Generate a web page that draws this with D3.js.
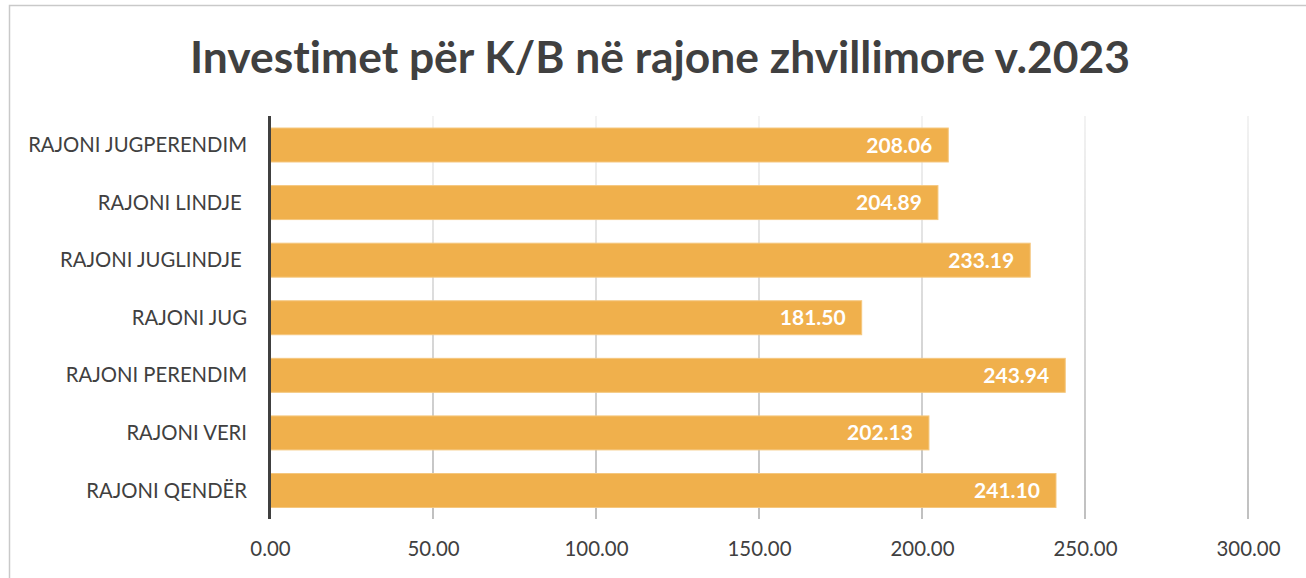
<!DOCTYPE html>
<html><head><meta charset="utf-8">
<script src="https://cdn.jsdelivr.net/npm/d3@7"></script>
<style>body{margin:0;background:#fff;} svg{display:block;} text{font-variant-ligatures:none;font-feature-settings:"liga" 0;}</style>
</head><body>
<svg id="c" width="1306" height="578"></svg>
<script>
const title = "Investimet për K/B në rajone zhvillimore v.2023";
const categories = ["RAJONI JUGPERENDIM","RAJONI LINDJE ","RAJONI JUGLINDJE ","RAJONI JUG","RAJONI PERENDIM","RAJONI VERI","RAJONI QENDËR"];
const values = [208.06,204.89,233.19,181.50,243.94,202.13,241.10];
const tickValues = [0,50,100,150,200,250,300];

const svg = d3.select("#c");
const font = "Lato, 'Open Sans', sans-serif";
const textCol = "#404040";

// chart border
svg.append("rect").attr("x",9.5).attr("y",5.5).attr("width",1320).attr("height",600)
  .attr("fill","none").attr("stroke","#c9c9c9").attr("stroke-width",1.5);

const x = d3.scaleLinear().domain([0,300]).range([270,1248]);
const y = d3.scaleBand().domain(categories).range([116.5,519]).paddingInner(0.41).paddingOuter(0.2);

const defs = svg.append("defs");
const g = defs.append("linearGradient").attr("id","gg").attr("gradientUnits","userSpaceOnUse")
  .attr("x1",0).attr("y1",116).attr("x2",0).attr("y2",519);
g.append("stop").attr("offset","0").attr("stop-color","#ececec");
g.append("stop").attr("offset","1").attr("stop-color","#9e9e9e");

// gridlines
svg.append("g").selectAll("line").data(tickValues.slice(1)).join("line")
  .attr("x1",d=>x(d)).attr("x2",d=>x(d)).attr("y1",116).attr("y2",519)
  .attr("stroke","url(#gg)").attr("stroke-width",1.3);

// bars
svg.append("g").selectAll("rect").data(values).join("rect")
  .attr("x",x(0)).attr("y",(d,i)=>y(categories[i]))
  .attr("width",d=>x(d)-x(0)).attr("height",y.bandwidth())
  .attr("fill","#f0b04c").attr("stroke","#f5c77e").attr("stroke-width",1);

// axis line
svg.append("line").attr("x1",269.5).attr("x2",269.5).attr("y1",116).attr("y2",519)
  .attr("stroke","#404040").attr("stroke-width",3);

// x axis
const xa = svg.append("g").attr("transform","translate(0,519)")
  .call(d3.axisBottom(x).tickValues(tickValues).tickFormat(d3.format(".2f")).tickSize(0).tickPadding(20));
xa.select(".domain").remove();
xa.selectAll("text").attr("fill",textCol).attr("font-family",font).attr("font-size",19).attr("dy","0.35em").attr("y",30);

// category labels
const cl = svg.append("g").selectAll("text").data(categories).join("text")
  .attr("x",247).attr("y",d=>y(d)+y.bandwidth()/2).attr("dy","0.35em")
  .attr("text-anchor","end").attr("fill",textCol).attr("font-family",font).attr("font-size",18)
  .style("white-space","pre").text(d=>d);

// value labels
svg.append("g").selectAll("text").data(values).join("text")
  .attr("x",d=>x(d)-16).attr("y",(d,i)=>y(categories[i])+y.bandwidth()/2).attr("dy","0.36em")
  .attr("text-anchor","end").attr("fill","#fff").attr("font-weight","bold")
  .attr("font-family",font).attr("font-size",20).text(d=>d3.format(".2f")(d));

// title
const t = svg.append("text").attr("x",660).attr("y",73).attr("text-anchor","middle")
  .attr("fill",textCol).attr("font-family",font).attr("font-weight","bold").attr("font-size",42).text(title);

// fit font sizes to reference widths
function fit(sel, target){ const w = sel.node().getComputedTextLength(); const fs = +sel.attr("font-size"); sel.attr("font-size", fs*target/w); }
fit(t, 940);
const first = cl.filter((d,i)=>i===0);
const w0 = first.node().getComputedTextLength();
cl.attr("font-size", 18*219/w0);
const xt = xa.selectAll("text").filter(d=>d===300);
const wt = xt.node().getComputedTextLength();
xa.selectAll("text").attr("font-size",19*64/wt);
const vl = svg.selectAll("text").filter(function(){return this.getAttribute("fill")==="#fff";});
const wv = vl.node().getComputedTextLength();
vl.attr("font-size",20*66/wv);
</script>
</body></html>
